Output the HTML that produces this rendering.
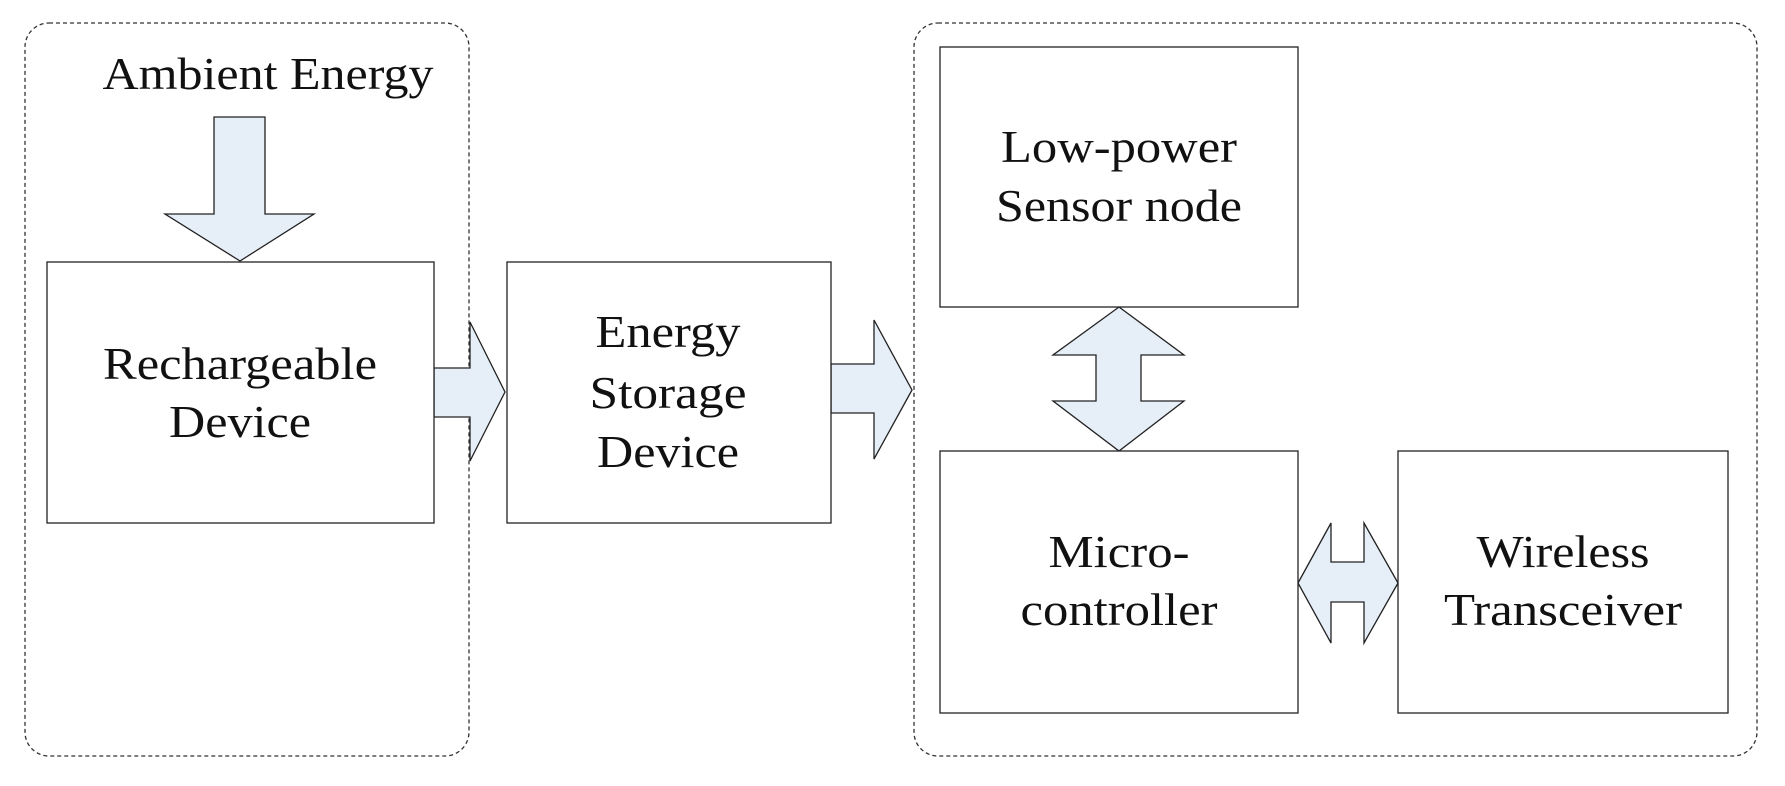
<!DOCTYPE html>
<html><head><meta charset="utf-8"><style>
html,body{margin:0;padding:0;background:#fff;}
svg{display:block}
text{font-family:"Liberation Serif",serif;font-size:46px;fill:#111;text-anchor:middle}
</style></head><body>
<svg width="1785" height="786" viewBox="0 0 1785 786" xmlns="http://www.w3.org/2000/svg">
<g fill="none" stroke="#333" stroke-width="1.3" stroke-dasharray="4,3">
<rect x="25" y="23" width="444" height="733" rx="24"/>
<rect x="914" y="23" width="843" height="733" rx="24"/>
</g>
<g fill="#e6eef8" stroke="#222" stroke-width="1.3">
<polygon points="214,117 265,117 265,214 314,214 240,261 165,214 214,214"/>
<polygon points="434,368 470,368 470,322 505,392 470,461 470,417 434,417"/>
<polygon points="831,364 874,364 874,320 912,390 874,459 874,413 831,413"/>
<polygon points="1119,307 1184,355 1141,355 1141,401 1184,401 1119,451 1053,401 1096,401 1096,355 1053,355"/>
<polygon points="1298,583 1331,523 1331,562 1364,562 1364,523 1398,583 1364,643 1364,602 1331,602 1331,643"/>
</g>
<g fill="#fff" stroke="#222" stroke-width="1.3">
<rect x="47" y="262" width="387" height="261"/>
<rect x="507" y="262" width="324" height="261"/>
<rect x="940" y="47" width="358" height="260"/>
<rect x="940" y="451" width="358" height="262"/>
<rect x="1398" y="451" width="330" height="262"/>
</g>
<text x="268" y="89" textLength="331" lengthAdjust="spacingAndGlyphs">Ambient Energy</text>
<text x="240" y="379" textLength="274" lengthAdjust="spacingAndGlyphs">Rechargeable</text>
<text x="240" y="437" textLength="142" lengthAdjust="spacingAndGlyphs">Device</text>
<text x="668" y="347" textLength="145" lengthAdjust="spacingAndGlyphs">Energy</text>
<text x="668" y="408" textLength="157" lengthAdjust="spacingAndGlyphs">Storage</text>
<text x="668" y="467" textLength="142" lengthAdjust="spacingAndGlyphs">Device</text>
<text x="1119" y="162" textLength="236" lengthAdjust="spacingAndGlyphs">Low-power</text>
<text x="1119" y="221" textLength="246" lengthAdjust="spacingAndGlyphs">Sensor node</text>
<text x="1119" y="567" textLength="141" lengthAdjust="spacingAndGlyphs">Micro-</text>
<text x="1119" y="625" textLength="197" lengthAdjust="spacingAndGlyphs">controller</text>
<text x="1563" y="567" textLength="173" lengthAdjust="spacingAndGlyphs">Wireless</text>
<text x="1563" y="625" textLength="238" lengthAdjust="spacingAndGlyphs">Transceiver</text>
</svg>
</body></html>
